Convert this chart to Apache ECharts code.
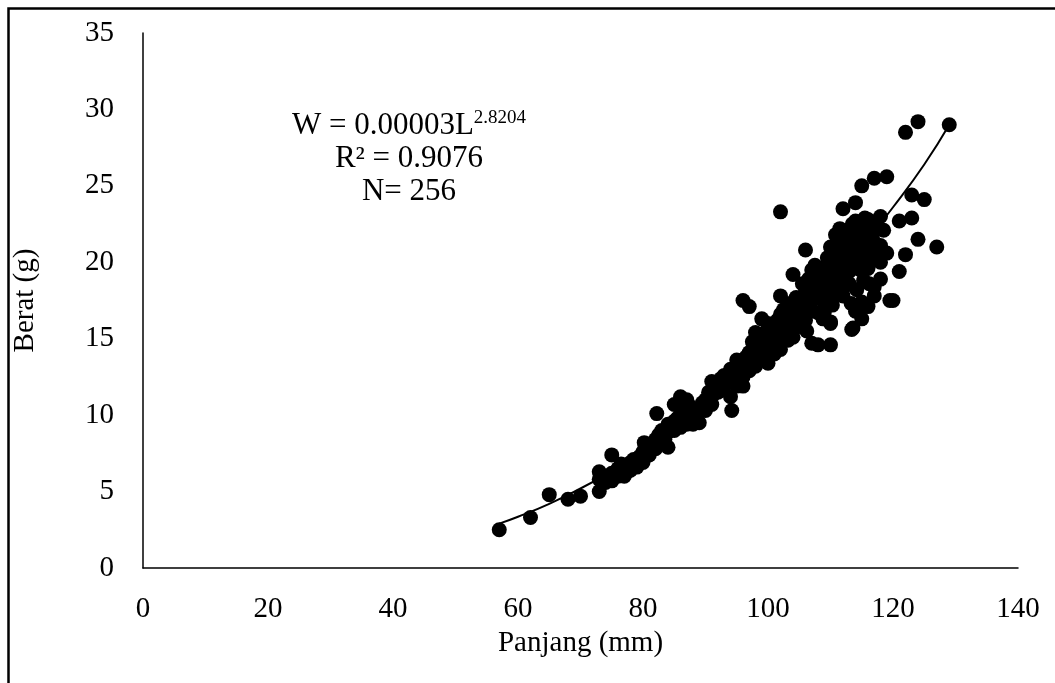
<!DOCTYPE html>
<html>
<head>
<meta charset="utf-8">
<script src="https://cdn.jsdelivr.net/npm/echarts@6/dist/echarts.min.js"></script>
<style>
html,body{margin:0;padding:0;background:#fff;}
#chart{width:1055px;height:683px;}
</style>
</head>
<body>
<div id="chart"></div>
<script>
// Observed data: [Panjang (mm), Berat (g)]
const observations = [
  [57,2.5],[62,3.3],[65,4.8],[68,4.5],[70,4.7],[73,5.0],[73,6.3],[73,5.8],[74,5.6],[75,7.4],[75,5.7],[75,6.2],
  [76,6.5],[76,6.0],[77,6.0],[77,6.7],[78,6.4],[78,6.9],[79,6.6],[79,7.0],[80,7.6],[80,7.2],[80,6.9],
  [81,7.4],[81,7.9],[82,8.4],[82.2,10.1],[82,7.8],[83,9.0],[83,8.2],[83,8.6],[84,7.9],[84,8.9],[84,9.4],
  [85,10.7],[85,9.0],[85,9.6],[86,11.2],[86,9.2],[86,10.0],[87,11.0],[87,10.1],[87,9.4],[88,9.4],[88,9.9],
  [89,9.5],[89,10.4],[90,11.0],[90,10.3],[91,10.7],[91,11.2],[91,12.2],[92,12.1],[92,11.5],[93,12.6],[93,11.9],
  [94,11.2],[94.2,10.3],[94,13.0],[94,12.5],[95,13.6],[95,12.3],[95,11.9],[95,12.8],[96,11.9],[96,12.5],[96,13.3],
  [96,17.5],[97,17.1],[97,14.1],[97,13.5],[97,12.9],[98,15.4],[98,14.5],[98,13.2],[98,14.0],[99,16.3],[99,14.3],
  [99,13.8],[100,14.7],[100,16.0],[100,13.4],[100,15.0],[100,14.2],[101,14.8],[101,15.5],[101,14.0],
  [102,17.8],[102,16.6],[102,14.3],[102,23.3],[102,15.2],[103,15.4],[103,16.0],[103,15.7],[104,19.2],[104,15.1],
  [104,16.5],[104,17.0],[105,15.8],[105,16.8],[105,17.5],[105,16.2],[106,20.8],[106,18.2],[106,16.2],[106,17.0],
  [106,17.6],[107,19.5],[107,17.5],[107,14.7],[107,16.8],[107,18.6],[108,16.7],[108,18.3],[108,17.9],[108,19.0],
  [108,14.6],[109,16.7],[109,18.0],[109,17.3],[109,19.3],[110,21.0],[110,14.6],[110,16.1],[110,16.0],[110,18.5],
  [110,19.2],[110,17.8],[111,19.5],[111,18.0],[111,20.2],[111,18.8],[111,21.3],[112,23.5],[112,17.8],[112,19.8],
  [112,20.6],[112,21.7],[112,19.0],[113,18.6],[113,22.0],[113,20.3],[113,21.2],[113.4,15.6],[113,19.4],
  [114,23.9],[114,22.7],[114,16.8],[114,21.5],[114,20.6],[113.6,15.7],[114,19.9],[115,25.0],[115,17.4],[115,16.3],
  [115,21.0],[115,22.3],[115,20.2],[115,17.1],[116,22.8],[116,21.8],[116,20.6],[116,19.6],[116,17.1],[117,25.5],
  [117,18.4],[117,17.8],[117,21.3],[117,20.2],[117,22.4],[118,23.0],[118,20.0],[118,18.9],[118,21.1],[119,25.6],
  [119.5,17.5],[119,20.6],[120,17.5],[121,22.7],[121,19.4],[122,28.5],[122,20.5],[123,24.4],[123,22.9],
  [124,29.2],[124,21.5],[125,24.1],[127,21.0],[129,29.0],
  [78.5,7.1],[79.5,7.3],[80.5,7.8],[81.5,8.1],[82.5,8.7],[83.5,8.4],[84.5,9.2],[85.5,9.8],[86.5,10.3],[87.5,10.6],
  [88.5,10.2],[89.5,10.8],[90.5,11.5],[91.5,11.6],[92.5,12.4],[93.5,12.2],[76.5,6.8],[77.5,6.3],[74.5,6.0],[80.2,8.2],
  [96.5,13.8],[97.5,14.8],[98.5,15.0],[99.5,15.4],[100.5,15.6],[101.5,16.2],[102.5,16.9],[103.5,17.3],[104.5,17.7],
  [105.5,18.6],[106.5,18.9],[107.5,19.8],[108.5,19.6],[109.5,20.3],[103.2,14.9],[104.8,16.0],[106.2,15.5],
  [108.8,16.3],[109.3,18.7],[110.5,20.5],
  [110.8,21.8],[111.5,22.2],[112.5,21.0],[113.5,22.5],[114.5,21.9],[115.5,22.9],[116.5,21.5],[117.5,22.2],
  [111.8,20.4],[112.8,19.7],[113.8,20.9],[114.8,19.5],[115.8,20.9],[116.8,21.9],[117.8,20.5],[112.2,18.4],
  [113.3,17.3],[114.2,18.2],[115.3,18.8],[116.2,18.6],[118.5,22.1],[111.2,19.0],[110.3,17.2],[109.8,19.9],
  [107.8,18.0],[106.8,17.8]
];

// Power trendline, points
const trendLine = [
  [57,2.9],[60,3.35],[65,4.2],[70,5.2],[75,6.3],[80,7.5],[85,8.9],[90,10.5],[95,12.2],
  [100,14.1],[105,16.2],[110,18.5],[115,21.0],[120,23.6],[125,26.4],[129,29.0]
];

const xTicks = [0,20,40,60,80,100,120,140];
const yTicks = [0,5,10,15,20,25,30,35];
const xTitle = 'Panjang (mm)';
const yTitle = 'Berat (g)';
const eqMain = 'W = 0.00003L';
const eqExp = '2.8204';
const eqR2 = 'R² = 0.9076';
const eqN = 'N= 256';

const FONT = '"Liberation Serif", "Times New Roman", serif';

const chart = echarts.init(document.getElementById('chart'), null, {renderer: 'canvas'});
chart.setOption({
  animation: false,
  backgroundColor: '#fff',
  grid: {left: 143, right: 37, top: 33, bottom: 115, containLabel: false},
  xAxis: {
    type: 'value', min: xTicks[0], max: xTicks[xTicks.length-1], interval: 20,
    name: xTitle, nameLocation: 'middle', nameGap: 57,
    nameTextStyle: {fontFamily: FONT, fontSize: 29, color: '#000'},
    axisLine: {show: true, onZero: false, lineStyle: {color: '#000', width: 1.5}},
    axisTick: {show: false},
    splitLine: {show: false},
    axisLabel: {fontFamily: FONT, fontSize: 29, color: '#000', margin: 27}
  },
  yAxis: {
    type: 'value', min: yTicks[0], max: yTicks[yTicks.length-1], interval: 5,
    name: yTitle, nameLocation: 'middle', nameGap: 103,
    nameTextStyle: {fontFamily: FONT, fontSize: 29, color: '#000'},
    axisLine: {show: true, onZero: false, lineStyle: {color: '#000', width: 1.5}},
    axisTick: {show: false},
    splitLine: {show: false},
    axisLabel: {fontFamily: FONT, fontSize: 29, color: '#000', margin: 29}
  },
  series: [
    {
      type: 'line', data: trendLine, smooth: true, symbol: 'none',
      lineStyle: {color: '#000', width: 2}, z: 2, silent: true
    },
    {
      type: 'scatter', data: observations, symbol: 'circle', symbolSize: 15,
      itemStyle: {color: '#000', opacity: 1}, z: 3, silent: true
    }
  ],
  graphic: [
    {type: 'rect', left: 6, top: 6, shape: {x: 0, y: 0, width: 1200, height: 900},
     style: {fill: 'none', stroke: '#000', lineWidth: 2.5}, silent: true},
    {type: 'text', x: 409, y: 126,
     style: {
       text: '{a|' + eqMain + '}{s|' + eqExp + '}',
       align: 'center', verticalAlign: 'middle',
       rich: {
         a: {fontFamily: FONT, fontSize: 31, color: '#000', lineHeight: 34},
         s: {fontFamily: FONT, fontSize: 19, color: '#000', verticalAlign: 'top', lineHeight: 34, padding: [0,0,10,0]}
       }
     }},
    {type: 'text', x: 409, y: 159,
     style: {text: eqR2, align: 'center', verticalAlign: 'middle', fontFamily: FONT, fontSize: 31, fill: '#000'}},
    {type: 'text', x: 409, y: 192,
     style: {text: eqN, align: 'center', verticalAlign: 'middle', fontFamily: FONT, fontSize: 31, fill: '#000'}}
  ]
});
</script>
</body>
</html>
